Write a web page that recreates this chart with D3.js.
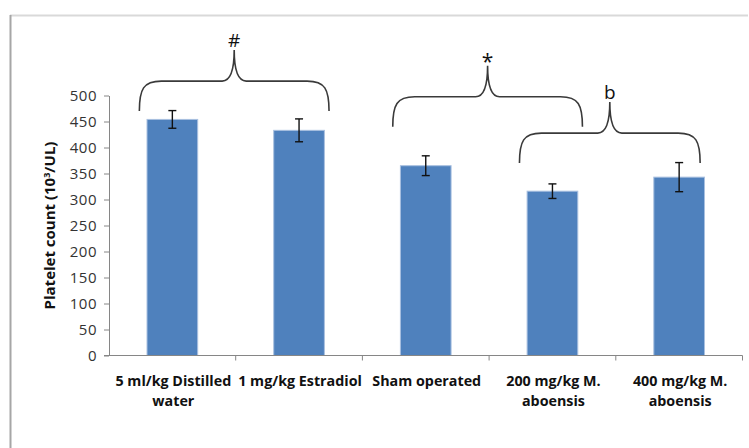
<!DOCTYPE html>
<html>
<head>
<meta charset="utf-8">
<script src="https://cdn.jsdelivr.net/npm/d3@7"></script>
<style>
html,body{margin:0;padding:0;background:#fff;}
svg{display:block;}
</style>
</head>
<body>
<svg id="chart" width="749" height="448"></svg>
<script>
// ---- data ----
const categories = ["5 ml/kg Distilled water", "1 mg/kg Estradiol", "Sham operated", "200 mg/kg M. aboensis", "400 mg/kg M. aboensis"];
const categoryLines = [["5 ml/kg Distilled", "water"], ["1 mg/kg Estradiol"], ["Sham operated"], ["200 mg/kg M.", "aboensis"], ["400 mg/kg M.", "aboensis"]];
const values = [454, 433, 365, 316, 343];
const errors = [17, 22, 19, 14, 28];
const yTicks = [0, 50, 100, 150, 200, 250, 300, 350, 400, 450, 500];
const braceLabels = ["#", "*", "b"];
const braceStart = [0, 2, 3];
const braceEnd = [1, 3, 4];
const braceBase = [470, 440, 370];

// ---- layout ----
const FONT = "'Open Sans', 'Liberation Sans', Arial, sans-serif";
const svg = d3.select("#chart");
const x0 = 109, x1 = 742.5, yBottom = 355.5, yTop = 95.5;
const x = d3.scaleBand().domain(categories).range([x0, x1]).paddingInner(0.6).paddingOuter(0.3);
const xb = d3.scaleBand().domain(categories).range([x0, x1]);
const y = d3.scaleLinear().domain([0, 500]).range([yBottom, yTop]);

// outer frame
svg.append("line").attr("x1", 10).attr("x2", 748).attr("y1", 15.5).attr("y2", 15.5)
  .attr("stroke", "#d9d9d9").attr("stroke-width", 2);
svg.append("line").attr("x1", 10.5).attr("x2", 10.5).attr("y1", 15).attr("y2", 448)
  .attr("stroke", "#a6a6a6").attr("stroke-width", 2);

// bars
svg.append("g").selectAll("rect").data(values).join("rect")
  .attr("x", (d, i) => x(categories[i]))
  .attr("y", d => y(d))
  .attr("width", x.bandwidth())
  .attr("height", d => y(0) - y(d))
  .attr("fill", "#4f81bd")
  .attr("stroke", "#a9c0e0").attr("stroke-width", 1);

// y axis
const yAxis = d3.axisLeft(y).tickValues(yTicks).tickSize(5).tickPadding(7).tickSizeOuter(0);
const gy = svg.append("g").attr("transform", `translate(${x0},0)`).call(yAxis);
gy.select(".domain").attr("stroke", "#868686");
gy.selectAll(".tick line").attr("stroke", "#868686");
gy.selectAll(".tick text").attr("font-family", FONT)
  .attr("font-size", 15).attr("fill", "#333").attr("letter-spacing", 0.5);

// x axis
const gx = svg.append("g").attr("transform", `translate(0,${yBottom})`);
gx.append("line").attr("x1", x0 - 5).attr("x2", x1).attr("y1", 0).attr("y2", 0).attr("stroke", "#868686");
const bounds = categories.slice(1).map(c => xb(c)).concat([x1]);
gx.selectAll("line.t").data(bounds).join("line").attr("class", "t")
  .attr("x1", d => d).attr("x2", d => d).attr("y1", 0).attr("y2", 5).attr("stroke", "#868686");

// category labels
const labG = svg.append("g").attr("font-family", FONT)
  .attr("font-size", 14.3).attr("font-weight", "bold").attr("fill", "#111").attr("text-anchor", "middle");
categories.forEach((c, i) => {
  const cx = xb(c) + xb.bandwidth() / 2 + 1;
  const t = labG.append("text").attr("x", cx).attr("y", 385.5);
  categoryLines[i].forEach((ln, j) => {
    t.append("tspan").attr("x", cx).attr("dy", j === 0 ? 0 : 20).text(ln);
  });
});

// y title
svg.append("text")
  .attr("transform", `translate(55,${(yTop + yBottom) / 2}) rotate(-90)`)
  .attr("text-anchor", "middle")
  .attr("font-family", FONT)
  .attr("font-size", 15).attr("font-weight", "bold").attr("fill", "#111")
  .html('Platelet count (10<tspan font-size="9" dy="-5">3</tspan><tspan dy="5">/UL)</tspan>');

// error bars
const eg = svg.append("g").attr("stroke", "#111").attr("stroke-width", 1.4);
values.forEach((v, i) => {
  const cx = x(categories[i]) + x.bandwidth() / 2;
  eg.append("line").attr("x1", cx).attr("x2", cx).attr("y1", y(v + errors[i])).attr("y2", y(v - errors[i]));
  eg.append("line").attr("x1", cx - 4).attr("x2", cx + 4).attr("y1", y(v + errors[i])).attr("y2", y(v + errors[i]));
  eg.append("line").attr("x1", cx - 4).attr("x2", cx + 4).attr("y1", y(v - errors[i])).attr("y2", y(v - errors[i]));
});

// braces
const bg = svg.append("g");
braceLabels.forEach((lab, i) => {
  const cs = x(categories[braceStart[i]]) + x.bandwidth() / 2;
  const ce = x(categories[braceEnd[i]]) + x.bandwidth() / 2;
  const xl = cs - 33, xr = ce + (i === 2 ? 21 : 30);
  const xc = (xl + xr) / 2;
  const yb = y(braceBase[i]);
  const yh = yb - 30, yt = yh - 31;
  const r = 22, s = 12;
  const p = d3.path();
  p.moveTo(xl, yb);
  p.bezierCurveTo(xl, yh + 8, xl + 4, yh, xl + r, yh);
  p.lineTo(xc - s, yh);
  p.bezierCurveTo(xc - 3, yh, xc, yh - 12, xc, yt);
  p.bezierCurveTo(xc, yh - 12, xc + 3, yh, xc + s, yh);
  p.lineTo(xr - r, yh);
  p.bezierCurveTo(xr - 4, yh, xr, yh + 8, xr, yb);
  bg.append("path").attr("d", p.toString()).attr("fill", "none")
    .attr("stroke", "#3a3a3a").attr("stroke-width", 1.6);
  bg.append("text").attr("x", xc).attr("y", yt - (lab === "*" ? -3 : 3))
    .attr("text-anchor", "middle")
    .attr("font-family", FONT)
    .attr("font-size", lab === "*" ? 21 : 19).attr("fill", "#111").text(lab);
});
</script>
</body>
</html>
